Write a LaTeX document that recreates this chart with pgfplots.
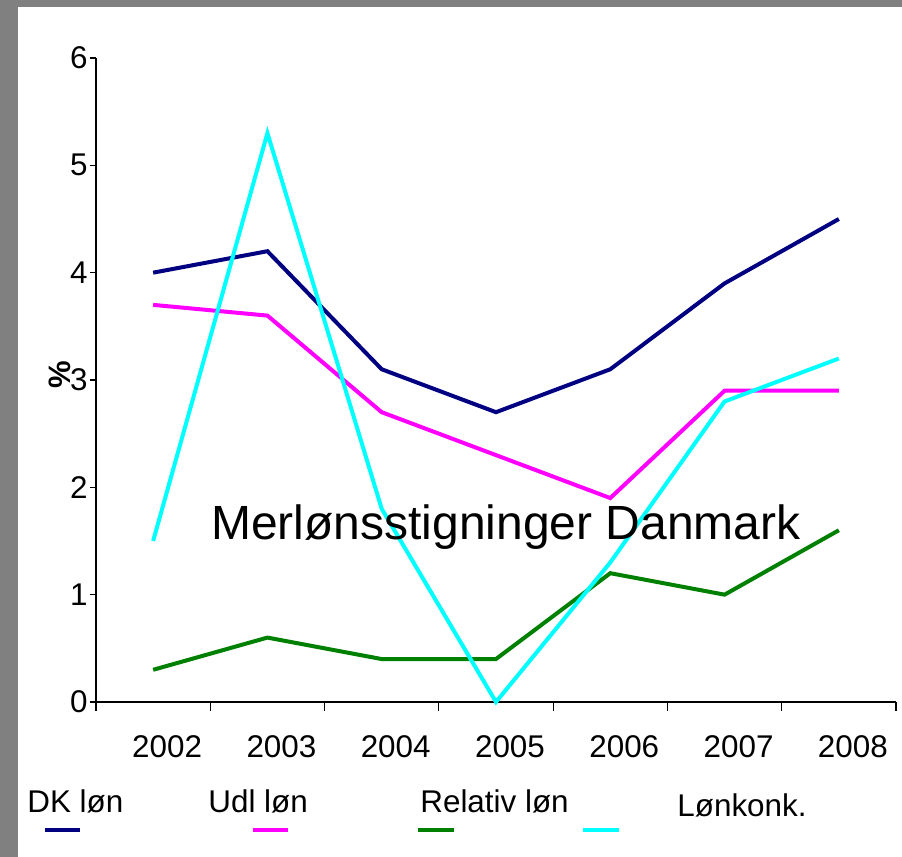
\documentclass[border=0pt]{standalone}
\usepackage{fontspec}
\setmainfont{Liberation Sans}
\usepackage{pgfplots}
\pgfplotsset{compat=1.18}
\definecolor{bordergray}{HTML}{808080}
\definecolor{dknavy}{HTML}{000080}
\definecolor{udlmag}{HTML}{FF00FF}
\definecolor{relgreen}{HTML}{008000}
\definecolor{konkcyan}{HTML}{00FFFF}
\newcommand{\tickfont}{\fontsize{15.7}{18}\selectfont}
\begin{document}
\begin{tikzpicture}
\fill[bordergray] (0,0) rectangle (451pt,428.5pt);
\fill[white] (9pt,0) rectangle (451pt,425pt);
\begin{axis}[
  at={(48pt,77.5pt)}, anchor=south west,
  scale only axis, width=400pt, height=322pt,
  xmin=-0.5, xmax=6.5, ymin=0, ymax=6,
  axis x line*=bottom, axis y line*=left,
  axis line style={line width=0.6pt, black, -},
  xtick={0,...,6},
  xticklabels={2002,2003,2004,2005,2006,2007,2008},
  minor xtick={-0.5,0.5,...,6.5},
  ytick={0,...,6},
  tick align=outside,
  major tick length=3pt, minor tick length=4.5pt,
  major x tick style={draw=none},
  tick style={line width=0.6pt, black},
  /pgf/number format/assume math mode=true,
  tick label style={font=\tickfont},
  xticklabel style={yshift=-10.5pt, xshift=7pt},
  yticklabel style={inner xsep=1pt},
  clip=false,
  every axis plot/.append style={line width=2pt, no markers, line join=miter},
]
\addplot[dknavy] coordinates {(0,4.0) (1,4.2) (2,3.1) (3,2.7) (4,3.1) (5,3.9) (6,4.5)};
\addplot[udlmag] coordinates {(0,3.7) (1,3.6) (2,2.7) (3,2.3) (4,1.9) (5,2.9) (6,2.9)};
\addplot[relgreen] coordinates {(0,0.3) (1,0.6) (2,0.4) (3,0.4) (4,1.2) (5,1.0) (6,1.6)};
\addplot[konkcyan] coordinates {(0,1.5) (1,5.3) (2,1.8) (3,0.0) (4,1.3) (5,2.8) (6,3.2)};
\end{axis}
% title inside plot
\node[anchor=base, inner sep=0pt, font=\fontsize{24}{28}\selectfont] at (253pt,158.5pt) {Merlønsstigninger Danmark};
% y label
\node[rotate=90, inner sep=0pt, font=\fontsize{15.5}{18}\selectfont\bfseries] at (30pt,241pt) {\%};
% legend
\begin{scope}[font=\tickfont]
\node[anchor=base west, inner sep=0pt] at (13.5pt,22pt) {DK løn};
\node[anchor=base west, inner sep=0pt] at (104pt,22pt) {Udl løn};
\node[anchor=base west, inner sep=0pt] at (210pt,22pt) {Relativ løn};
\node[anchor=base west, inner sep=0pt] at (338.5pt,20pt) {Lønkonk.};
\end{scope}
\draw[dknavy, line width=2pt] (22.5pt,13.5pt) -- (40pt,13.5pt);
\draw[udlmag, line width=2pt] (126.5pt,13.5pt) -- (144pt,13.5pt);
\draw[relgreen, line width=2pt] (209pt,13.5pt) -- (227pt,13.5pt);
\draw[konkcyan, line width=2pt] (291.5pt,13.5pt) -- (309.5pt,13.5pt);
\end{tikzpicture}
\end{document}
